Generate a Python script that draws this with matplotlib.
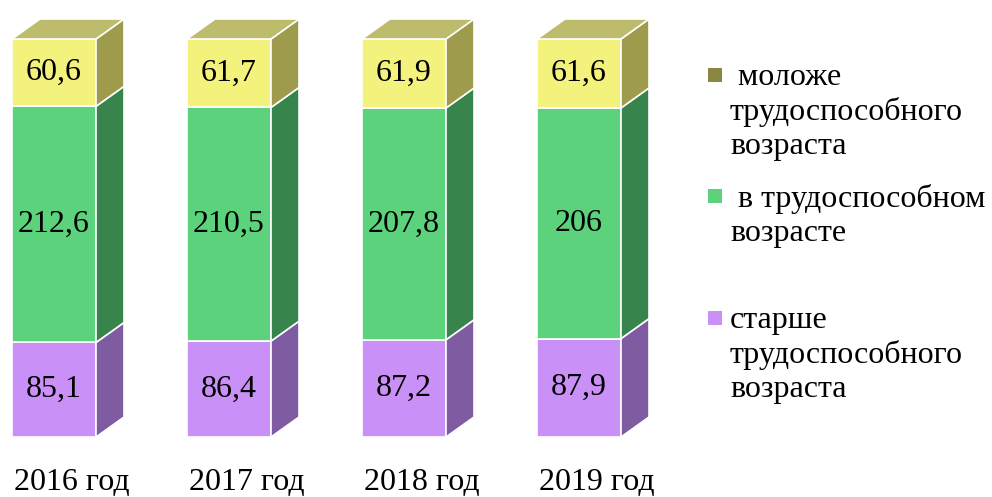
import numpy as np
import matplotlib.pyplot as plt
from matplotlib.patches import Polygon

years = ['2016 год', '2017 год', '2018 год', '2019 год']
older = [85.1, 86.4, 87.2, 87.9]
working = [212.6, 210.5, 207.8, 206]
younger = [60.6, 61.7, 61.9, 61.6]

labels = [' моложе\nтрудоспособного\nвозраста',
          ' в трудоспособном\nвозрасте',
          'старше\nтрудоспособного\nвозраста']

plt.rcParams['font.family'] = ['Liberation Serif', 'DejaVu Serif']

# order: older (bottom), working, younger (top)
front = ['#C990F7', '#5BD27B', '#F3F27C']
side = ['#7F5CA2', '#38844D', '#9E9C4C']
top_col = '#BDBC6C'

fig = plt.figure(figsize=(9.92, 4.97), dpi=100)
ax = fig.add_axes([0, 0, 1, 1])
ax.set_xlim(-54 / 175, (992 - 54) / 175)
ax.set_ylim(-60 / 3.98, 100 + 39 / 3.98)
ax.axis('off')

x = np.arange(len(years))
w = 84 / 175
dx = 28 / 175
dy = 20 / 3.98

data = np.array([older, working, younger])
totals = data.sum(axis=0)
pct = data / totals * 100

bottom = np.zeros(len(years))
for k in range(3):
    ax.bar(x, pct[k], w, bottom=bottom, color=front[k], edgecolor='white', linewidth=1.2, zorder=2)
    for i in range(len(years)):
        r = x[i] + w / 2
        b0 = bottom[i]
        b1 = bottom[i] + pct[k][i]
        ax.add_patch(Polygon([(r, b0), (r + dx, b0 + dy), (r + dx, b1 + dy), (r, b1)],
                             closed=True, facecolor=side[k], edgecolor='white', linewidth=1.2, zorder=2))
        ax.text(x[i], (b0 + b1) / 2, f'{data[k][i]:g}'.replace('.', ','),
                ha='center', va='center', fontsize=23, zorder=3)
    bottom = bottom + pct[k]

# top faces
for i in range(len(years)):
    l = x[i] - w / 2
    r = x[i] + w / 2
    t = bottom[i]
    ax.add_patch(Polygon([(l, t), (l + dx, t + dy), (r + dx, t + dy), (r, t)],
                         closed=True, facecolor=top_col, edgecolor='white', linewidth=1.2, zorder=2))

for i in range(len(years)):
    ax.text(x[i] + dx / 2 + 0.02, -11.5, years[i], ha='center', va='center', fontsize=23)

# legend
leg_y = [75, 196, 318]
leg_col = ['#8A8840', front[1], front[0]]
for lab, yy, col in zip(labels, leg_y, leg_col):
    fig.patches.append(plt.Rectangle((708 / 992, 1 - (yy + 7) / 497), 14 / 992, 14 / 497,
                                     transform=fig.transFigure, facecolor=col, edgecolor='none'))
    fig.text(730 / 992, 1 - (yy - 12) / 497, lab, ha='left', va='top', fontsize=23,
             linespacing=1.22)

fig.savefig('out.png', dpi=100)
